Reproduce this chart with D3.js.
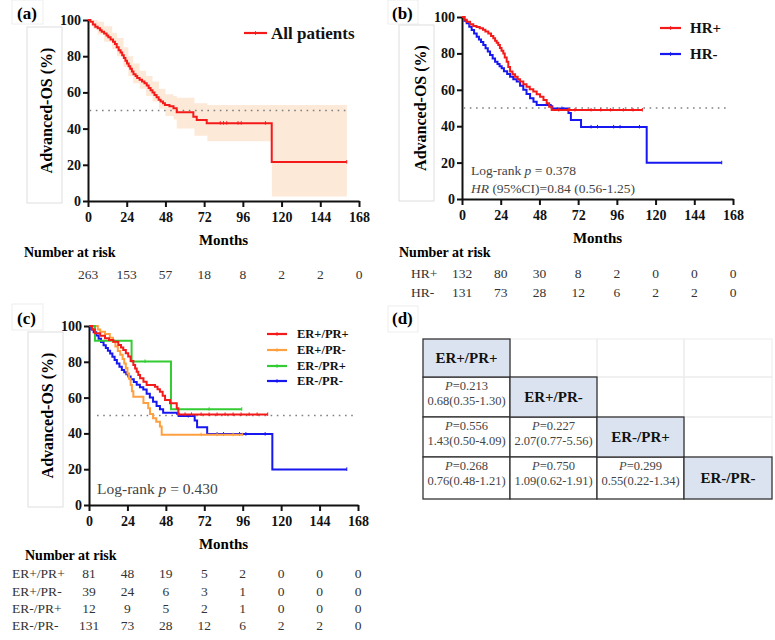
<!DOCTYPE html>
<html><head><meta charset="utf-8">
<script src="https://cdn.jsdelivr.net/npm/d3@7"></script>
<style>body{margin:0;background:#fff}svg{display:block;font-family:"Liberation Serif","Times New Roman",serif}</style>
</head><body><svg id="chart" width="775" height="640"></svg>
<script>
// ---------- DATA ----------
const monthTicks = [0, 24, 48, 72, 96, 120, 144, 168];
const survTicks = [0, 20, 40, 60, 80, 100];

// (a) all patients: [month, survival %]
const allPatients = [[0,100],[1.5,99],[3,97.5],[4.5,96.3],[6,95.4],[7.5,94.3],[8.5,93.5],[10,92.5],[11.5,91.5],[12.6,90.5],[14,89.2],[15.5,88],[16.7,86.8],[17.8,85],[19,83.3],[20.2,82],[21.2,80.5],[22.2,79],[23.2,77.5],[24.2,76],[25.2,74.5],[26.2,73],[27.2,71.5],[28.2,70],[29.5,69],[30.5,68],[32,67],[33.5,66],[35,65],[36.4,63.8],[37.6,62.5],[38.8,61.2],[40,60],[41.2,58.6],[42.5,57.3],[43.8,56],[45,55],[46.5,54],[47.7,53],[50.5,52.3],[53,51.2],[55,49],[65.3,46.6],[67.4,44.8],[73.6,43],[113.9,21.5],[160.4,21.5]];
const allCensor = [82, 84, 86, 93, 95, 110, 160.4];
const ciTimes = [0, 3, 6, 10, 15, 18, 22, 25, 28, 32, 36, 40, 44, 48, 53, 55, 66, 74, 114, 160.5];
const ciUpper = [100, 100, 99, 96.5, 93, 90, 85, 80, 76, 72, 69, 66, 62, 59, 58, 57, 54, 53, 53, 53];
const ciLower = [100, 95, 92, 88, 84, 80, 74, 69, 65, 62, 58, 55, 51, 47, 45, 40, 36, 33, 2.5, 2.5];
const riskAll = [263, 153, 57, 18, 8, 2, 2, 0];

// (b) HR+ / HR-
const hrPos = [[0,100],[1.5,98.5],[2.9,97.4],[5,96],[7,95],[9,94.5],[11,93.8],[13,93],[14.5,92],[16.3,91],[18,89.5],[19.4,88.3],[20.5,87],[21.5,85.8],[22.5,84.6],[23.5,83],[24.5,81.5],[25.6,80],[26.5,77.8],[27.7,75.4],[28.7,72.5],[29.8,70],[31.3,68.6],[32.9,67.2],[34.5,65.8],[36,64.5],[38,63],[40,61.7],[42,60.3],[44.2,59],[46.3,57.6],[48.4,56.2],[50.5,54.4],[52.5,52.6],[54,50.7],[55.6,48.9],[111.8,48.9]];
const hrNeg = [[0,100],[1.5,98],[2.9,96.5],[4.5,94.7],[6,92.9],[7.5,91],[9.1,89.2],[10.5,87.7],[11.8,86.2],[13.2,84.6],[14.6,82.8],[16,81],[17.4,79.1],[19,77.2],[20.5,75.4],[22,74.2],[23.3,73],[24.6,71.8],[26,70.2],[28,68.7],[29.8,67.2],[31.8,65.8],[33.9,64.5],[36,62.2],[38,60],[40,57.7],[42.2,55.3],[44.3,53.5],[46.3,51.6],[55,51],[56,49.7],[66,47.2],[67.5,43.4],[73.8,39.6],[114.5,19.9],[161,19.9]];
const hrPosCensor = [60, 66, 70, 80, 86, 92, 100, 106, 111.8];
const hrNegCensor = [62, 80, 84, 94, 98, 110, 161];
const riskHRpos = [132, 80, 30, 8, 2, 0, 0, 0];
const riskHRneg = [131, 73, 28, 12, 6, 2, 2, 0];

// (c) ER/PR subgroups
const erpPrp = [[0,100],[2,98],[3.7,95.9],[7,94.5],[10,93.1],[12.5,92.2],[15.2,91.2],[18.3,89.4],[20,88],[21.4,86.6],[23,84.8],[24.5,82.9],[26,80.5],[27.7,78.2],[28.8,76.3],[29.8,74.5],[30.8,72.6],[31.9,70.8],[34,68.9],[36,67],[41.2,66.1],[42.8,64.7],[44.3,63.3],[46,61],[47.5,58.7],[50.6,56.8],[54.8,54],[55.8,50.6],[111.6,50.6]];
const erpPrn = [[0,100],[5.5,98],[7,96.8],[10,95.5],[13,93.5],[15,91],[16.5,88.5],[18,86],[19.5,84],[21,81.5],[22,79],[23,76.5],[24,73.5],[25,70.5],[26,67],[26.8,63.5],[27.7,60.5],[34,57],[37,54],[38.1,50.8],[40,48.5],[42,46.5],[44.3,43.8],[45.4,39.3],[96,39.3]];
const ernPrp = [[0,100],[3.7,91.7],[26.6,80.2],[51.2,53.5],[95.4,53.5]];
const ernPrn = hrNeg;
const erpPrpCensor = [60, 64, 70, 75, 80, 85, 90, 95, 100, 105, 111.6];
const erpPrnCensor = [70, 80, 90, 96];
const ernPrpCensor = [35, 75, 95.4];
const ernPrnCensor = hrNegCensor;
const subgroupNames = ["ER+/PR+", "ER+/PR-", "ER-/PR+", "ER-/PR-"];
const riskSub = [[81, 48, 19, 5, 2, 0, 0, 0],[39, 24, 6, 3, 1, 0, 0, 0],[12, 9, 5, 2, 1, 0, 0, 0],[131, 73, 28, 12, 6, 2, 2, 0]];

// (d) pairwise comparisons
const pairP = [["0.213","0.68(0.35-1.30)"],["0.556","1.43(0.50-4.09)"],["0.227","2.07(0.77-5.56)"],["0.268","0.76(0.48-1.21)"],["0.750","1.09(0.62-1.91)"],["0.299","0.55(0.22-1.34)"]];
const pairRow = [1, 2, 2, 3, 3, 3];
const pairCol = [0, 0, 1, 0, 1, 2];

// ---------- DRAW ----------
const FONT = "'Liberation Serif','Times New Roman',serif";
const RED = "#f51a1a", BLUE = "#1717f0", ORANGE = "#ffa040", GREEN = "#33cc33", BAND = "#fde9d8";
const svg = d3.select("#chart");

function faintBox(x, y, w, h, c) {
  svg.append("rect").attr("x", x).attr("y", y).attr("width", w).attr("height", h)
    .attr("fill", "none").attr("stroke", c || "#e4e4e4").attr("stroke-width", 1);
}
function label(t, x, y) {
  svg.append("text").attr("x", x).attr("y", y).attr("font-weight", "bold").attr("font-size", 17).text(t);
}

function makePanel(cfg) {
  const x = d3.scaleLinear().domain([0, 168]).range([cfg.x0, cfg.x1]);
  const y = d3.scaleLinear().domain([0, 100]).range([cfg.yb, cfg.yt]);
  const g = svg.append("g");
  faintBox(cfg.boxX, cfg.boxY, 35, cfg.boxH, "#dedede");
  g.append("text").attr("transform", `translate(${cfg.titleX},${(cfg.yt + cfg.yb) / 2}) rotate(-90)`)
    .attr("text-anchor", "middle").attr("dominant-baseline", "central")
    .attr("font-weight", "bold").attr("font-size", 16).text("Advanced-OS (%)");
  const ax = g.append("g").attr("transform", `translate(0,${cfg.yb})`)
    .call(d3.axisBottom(x).tickValues(monthTicks).tickSize(6).tickSizeOuter(0).tickPadding(5).tickFormat(d3.format("d")));
  const ay = g.append("g").attr("transform", `translate(${cfg.x0},0)`)
    .call(d3.axisLeft(y).tickValues(survTicks).tickSize(5).tickSizeOuter(0).tickPadding(2).tickFormat(d3.format("d")));
  [ax, ay].forEach(a => {
    a.attr("font-family", FONT);
    a.selectAll("path,line").attr("stroke", "#111").attr("stroke-width", 2);
    a.selectAll("text").attr("font-weight", "bold").attr("font-size", 14).attr("fill", "#111");
  });
  g.append("text").attr("x", (cfg.x0 + cfg.x1) / 2).attr("y", cfg.yb + 44).attr("text-anchor", "middle")
    .attr("font-weight", "bold").attr("font-size", 15).text("Months");
  g.append("line").attr("x1", x(cfg.dot0)).attr("x2", x(cfg.dot1)).attr("y1", y(50)).attr("y2", y(50))
    .attr("stroke", "#808080").attr("stroke-width", 1.6).attr("stroke-dasharray", "1.6,4.6");
  return { g, x, y };
}

function km(p, data, color, censors) {
  const line = d3.line().x(d => p.x(d[0])).y(d => p.y(d[1])).curve(d3.curveStepAfter);
  p.g.append("path").datum(data).attr("d", line).attr("fill", "none").attr("stroke", color).attr("stroke-width", 2);
  const surv = t => { let s = 100; data.forEach(d => { if (d[0] <= t) s = d[1]; }); return s; };
  p.g.selectAll(null).data(censors).enter().append("line")
    .attr("x1", t => p.x(t)).attr("x2", t => p.x(t))
    .attr("y1", t => p.y(surv(t)) - 2).attr("y2", t => p.y(surv(t)) + 1.5)
    .attr("stroke", color).attr("stroke-width", 1);
}

function legendItem(x1, x2, y, color, txt, fs, tx) {
  svg.append("line").attr("x1", x1).attr("x2", x2).attr("y1", y).attr("y2", y).attr("stroke", color).attr("stroke-width", 2.2);
  svg.append("line").attr("x1", (x1 + x2) / 2).attr("x2", (x1 + x2) / 2).attr("y1", y - 1.8).attr("y2", y + 1.8).attr("stroke", color).attr("stroke-width", 1);
  svg.append("text").attr("x", tx).attr("y", y).attr("dominant-baseline", "central")
    .attr("font-weight", "bold").attr("font-size", fs).attr("fill", "#111").text(txt);
}

function riskRow(p, vals, yb, name, nameX) {
  svg.append("g").selectAll("text").data(vals).enter().append("text")
    .attr("x", (d, i) => p.x(monthTicks[i])).attr("y", yb).attr("text-anchor", "middle")
    .attr("font-size", 13.5).attr("fill", "#333").text(d => d);
  if (name) svg.append("text").attr("x", nameX).attr("y", yb).attr("font-size", 13.5).attr("fill", "#333").text(name);
}

// ----- Panel (a)
faintBox(12, 0, 31, 24, "#eeeeee");
label("(a)", 17, 19);
const pa = makePanel({ x0: 88, x1: 359, yt: 20, yb: 201, boxX: 27, boxY: 27, boxH: 176, titleX: 46, dot0: 1, dot1: 160.5 });
const ciData = ciTimes.map((t, i) => ({ t, u: ciUpper[i], l: ciLower[i] }));
pa.g.insert("path", ":first-child").datum(ciData)
  .attr("d", d3.area().x(d => pa.x(d.t)).y0(d => pa.y(d.l)).y1(d => pa.y(d.u)).curve(d3.curveStepAfter))
  .attr("fill", BAND).attr("stroke", "none");
km(pa, allPatients, RED, allCensor);
legendItem(244, 267, 33, RED, "All patients", 17, 271);
svg.append("text").attr("x", 24).attr("y", 257).attr("font-weight", "bold").attr("font-size", 14).text("Number at risk");
riskRow(pa, riskAll, 279);

// ----- Panel (b)
faintBox(388, 0, 30, 24, "#eeeeee");
label("(b)", 392, 19);
const pb = makePanel({ x0: 462, x1: 733, yt: 17, yb: 199, boxX: 399, boxY: 25, boxH: 176, titleX: 420, dot0: 1, dot1: 166 });
km(pb, hrNeg, BLUE, hrNegCensor);
km(pb, hrPos, RED, hrPosCensor);
legendItem(660, 681, 28, RED, "HR+", 15, 690);
legendItem(660, 681, 54, BLUE, "HR-", 15, 690);
const t1 = svg.append("text").attr("x", 471).attr("y", 175).attr("font-size", 13.5).attr("fill", "#444");
t1.append("tspan").text("Log-rank ");
t1.append("tspan").attr("font-style", "italic").text("p");
t1.append("tspan").text(" = 0.378");
const t2 = svg.append("text").attr("x", 471).attr("y", 193).attr("font-size", 13.5).attr("fill", "#444");
t2.append("tspan").attr("font-style", "italic").text("HR");
t2.append("tspan").text(" (95%CI)=0.84 (0.56-1.25)");
svg.append("text").attr("x", 399).attr("y", 257).attr("font-weight", "bold").attr("font-size", 14).text("Number at risk");
riskRow(pb, riskHRpos, 278, "HR+", 411);
riskRow(pb, riskHRneg, 297, "HR-", 411);

// ----- Panel (c)
faintBox(12, 304, 31, 26, "#eeeeee");
label("(c)", 17, 324);
const pc = makePanel({ x0: 89, x1: 358, yt: 326, yb: 505, boxX: 28, boxY: 332, boxH: 175, titleX: 47, dot0: 5, dot1: 166 });
km(pc, ernPrn, BLUE, ernPrnCensor);
km(pc, erpPrn, ORANGE, erpPrnCensor);
km(pc, ernPrp, GREEN, ernPrpCensor);
km(pc, erpPrp, RED, erpPrpCensor);
const subColors = [RED, ORANGE, GREEN, BLUE];
[334, 350, 366, 381].forEach((yy, i) => legendItem(267, 287, yy, subColors[i], subgroupNames[i], 12.5, 297));
const t3 = svg.append("text").attr("x", 97).attr("y", 494).attr("font-size", 15.5).attr("fill", "#444");
t3.append("tspan").text("Log-rank ");
t3.append("tspan").attr("font-style", "italic").text("p");
t3.append("tspan").text(" = 0.430");
svg.append("text").attr("x", 25).attr("y", 560).attr("font-weight", "bold").attr("font-size", 14).text("Number at risk");
[578, 596, 613, 630].forEach((yy, i) => riskRow(pc, riskSub[i], yy, subgroupNames[i], 12));

// ----- Panel (d)
faintBox(388, 306, 30, 26, "#eeeeee");
label("(d)", 392, 324);
const colX = [423, 510, 597, 684, 772];
const rowY = [339, 377, 417, 457, 499];
const td = svg.append("g");
for (let r = 0; r < 4; r++) for (let c = r + 1; c < 4; c++) {
  td.append("rect").attr("x", colX[c]).attr("y", rowY[r]).attr("width", colX[c + 1] - colX[c]).attr("height", rowY[r + 1] - rowY[r])
    .attr("fill", "none").attr("stroke", "#ececec").attr("stroke-width", 1);
}
pairP.forEach((v, i) => {
  const r = pairRow[i], c = pairCol[i];
  td.append("rect").attr("x", colX[c]).attr("y", rowY[r]).attr("width", colX[c + 1] - colX[c]).attr("height", rowY[r + 1] - rowY[r])
    .attr("fill", "#fff").attr("stroke", "#333").attr("stroke-width", 1.3);
  const cx = (colX[c] + colX[c + 1]) / 2;
  const a = td.append("text").attr("x", cx).attr("y", rowY[r] + 13).attr("text-anchor", "middle").attr("font-size", 12.5).attr("fill", "#444");
  a.append("tspan").attr("font-style", "italic").text("P");
  a.append("tspan").text("=" + v[0]);
  td.append("text").attr("x", cx).attr("y", rowY[r] + 28).attr("text-anchor", "middle").attr("font-size", 12.5).attr("fill", "#444").text(v[1]);
});
subgroupNames.forEach((n, i) => {
  td.append("rect").attr("x", colX[i]).attr("y", rowY[i]).attr("width", colX[i + 1] - colX[i]).attr("height", rowY[i + 1] - rowY[i])
    .attr("fill", "#dce3f0").attr("stroke", "#333").attr("stroke-width", 1.3);
  td.append("text").attr("x", (colX[i] + colX[i + 1]) / 2).attr("y", (rowY[i] + rowY[i + 1]) / 2).attr("text-anchor", "middle")
    .attr("dominant-baseline", "central").attr("font-weight", "bold").attr("font-size", 15).attr("fill", "#111").text(n);
});
</script></body></html>
